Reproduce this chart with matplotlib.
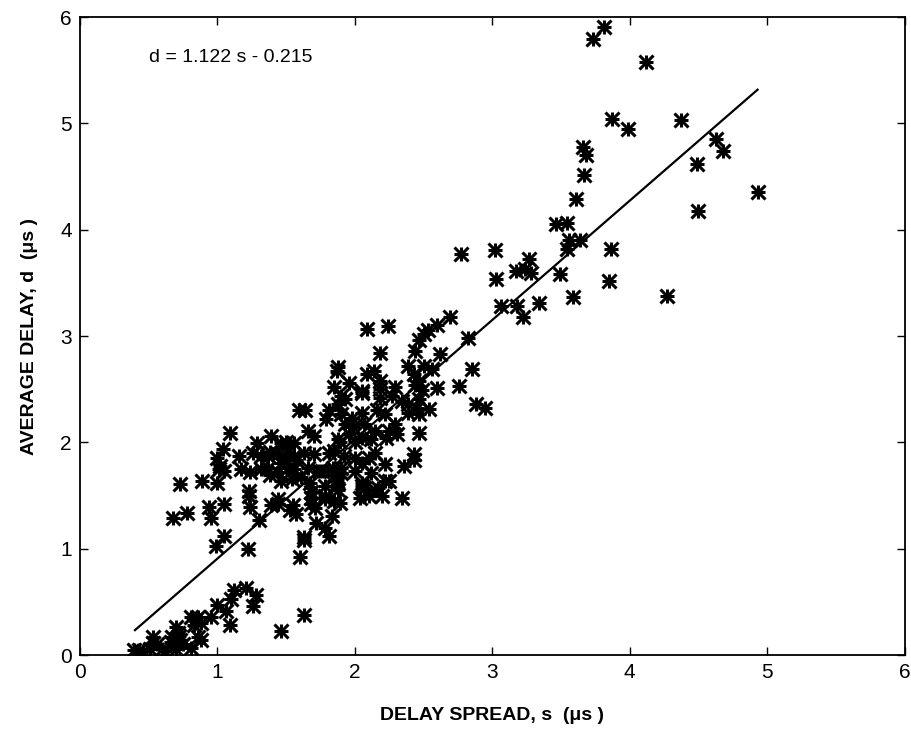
import matplotlib
matplotlib.use("Agg")
import matplotlib.pyplot as plt
import numpy as np

plt.rcParams['font.family'] = ['Liberation Sans', 'DejaVu Sans']

# Measured (delay spread s, average delay d) pairs, in microseconds
pts = [
    # upper right
    (3.73,5.79),(3.81,5.91),(4.12,5.58),(3.87,5.04),(3.99,4.95),(4.37,5.03),
    (3.66,4.78),(3.68,4.70),(3.67,4.51),(3.61,4.29),(4.63,4.85),(4.68,4.74),
    (4.49,4.62),(4.93,4.35),(4.50,4.18),(3.46,4.05),(3.54,4.06),(3.56,3.90),
    (3.64,3.90),(3.54,3.82),(3.86,3.82),(3.85,3.52),(3.59,3.37),(4.27,3.38),
    (3.49,3.58),
    # 2.8 - 3.4
    (2.77,3.77),(3.02,3.81),(3.03,3.54),(3.27,3.72),(3.17,3.61),(3.24,3.63),
    (3.28,3.59),(3.06,3.28),(3.18,3.28),(3.22,3.18),(3.34,3.31),
    # 2.4 - 3.0
    (2.69,3.18),(2.60,3.10),(2.53,3.06),(2.50,3.02),(2.47,2.96),(2.44,2.86),
    (2.82,2.98),(2.62,2.83),(2.85,2.69),(2.88,2.36),(2.95,2.32),(2.39,2.72),
    (2.50,2.72),(2.56,2.69),(2.43,2.64),(2.47,2.58),
    # 2.0 - 2.4 upper
    (2.09,3.07),(2.24,3.09),(2.18,2.84),(1.88,2.71),(1.87,2.67),(2.09,2.64),
    (2.14,2.67),(2.18,2.58),
    # row ~2.5
    (1.85,2.52),(1.96,2.56),(2.18,2.50),(2.29,2.52),(2.44,2.54),(2.60,2.51),
    (2.76,2.53),(2.05,2.48),(2.49,2.49),
    # row ~2.4
    (1.90,2.44),(1.93,2.41),(2.05,2.46),(2.18,2.42),(2.27,2.44),(2.34,2.39),
    (2.39,2.36),(2.47,2.41),(1.88,2.36),
    # row ~2.3
    (1.59,2.30),(1.64,2.30),(1.81,2.30),(1.79,2.22),(1.90,2.27),(1.98,2.23),
    (2.05,2.28),(2.16,2.30),(2.22,2.27),(2.39,2.28),(2.47,2.27),(2.54,2.31),
    (2.45,2.32),
    # row ~2.1
    (1.09,2.09),(1.39,2.06),(1.66,2.11),(1.70,2.06),(1.93,2.17),(1.99,2.14),
    (2.07,2.17),(2.15,2.11),(2.29,2.17),(2.25,2.11),(1.96,2.08),(2.31,2.08),
    (2.47,2.09),
    # row ~2.0
    (1.04,1.94),(1.29,1.99),(1.50,2.00),(1.56,1.99),(1.88,2.03),(1.89,2.00),
    (2.05,2.04),(2.12,2.03),(2.23,2.04),(1.46,1.99),(1.51,1.95),(2.00,2.00),
    # row ~1.87
    (1.16,1.87),(1.00,1.85),(1.26,1.90),(1.37,1.87),(1.44,1.89),(1.70,1.89),
    (1.81,1.90),(1.32,1.87),(1.38,1.91),(1.49,1.85),(1.56,1.87),(1.63,1.90),
    (1.85,1.92),(1.92,1.87),(2.00,1.85),(2.10,1.85),(2.15,1.90),(2.43,1.89),
    (1.46,1.81),(1.51,1.76),(1.57,1.83),(2.05,1.81),(2.22,1.80),(2.36,1.78),
    (2.43,1.83),
    # row ~1.73
    (1.02,1.78),(1.05,1.73),(1.01,1.75),(1.17,1.75),(1.24,1.72),(1.32,1.75),
    (1.74,1.73),(1.84,1.76),(1.37,1.76),(1.44,1.72),(1.56,1.75),(1.66,1.76),
    (1.76,1.73),(1.85,1.69),(1.90,1.76),(2.00,1.73),(2.12,1.71),(1.38,1.69),
    (1.90,1.71),
    # row ~1.6
    (0.73,1.61),(0.89,1.64),(1.00,1.62),(1.46,1.64),(1.54,1.66),(1.61,1.67),
    (1.67,1.62),(1.78,1.59),(1.87,1.64),(1.23,1.54),(1.23,1.50),(1.68,1.53),
    (1.78,1.50),(1.88,1.55),(2.05,1.62),(2.07,1.57),(2.17,1.57),(2.25,1.64),
    (1.88,1.62),(2.15,1.55),(2.05,1.59),(2.22,1.64),
    # row ~1.45
    (1.44,1.47),(1.55,1.41),(1.68,1.48),(1.68,1.42),(1.78,1.47),(1.85,1.45),
    (1.89,1.43),(1.05,1.42),(0.94,1.39),(1.24,1.39),(1.44,1.42),(1.71,1.38),
    (2.34,1.48),(2.04,1.48),(2.10,1.50),(2.20,1.50),(1.39,1.41),(1.53,1.36),
    # row ~1.3
    (0.68,1.29),(0.78,1.34),(0.95,1.29),(1.57,1.33),(1.30,1.27),(1.83,1.31),
    (1.72,1.24),
    # lower middle
    (1.78,1.19),(1.81,1.12),(1.63,1.11),(1.05,1.12),(0.99,1.03),(1.22,1.00),
    (1.63,1.08),(1.60,0.92),
    # bottom cluster
    (1.63,0.38),(1.46,0.23),(1.12,0.61),(1.21,0.63),(1.28,0.56),(1.10,0.53),
    (1.26,0.46),(1.00,0.47),(1.06,0.41),(0.95,0.36),(1.09,0.28),(0.81,0.36),
    (0.84,0.33),(0.86,0.36),(0.70,0.26),(0.71,0.21),(0.73,0.14),(0.67,0.17),
    (0.86,0.17),(0.88,0.14),(0.53,0.17),(0.53,0.11),(0.39,0.05),(0.43,0.05),
    (0.51,0.06),(0.60,0.06),(0.70,0.06),(0.81,0.07),(0.75,0.10),(0.62,0.04),
    (0.46,0.04),(0.56,0.10),(0.66,0.12),(0.83,0.28),(0.88,0.30),(0.72,0.18),
]
spread = np.array([p[0] for p in pts])
avg_delay = np.array([p[1] for p in pts])

slope, intercept = 1.122, -0.215
fit_range = [0.40, 4.93]

fig = plt.figure(figsize=(9.11, 7.30), dpi=100)
ax = fig.add_axes([0.0878, 0.1027, 0.9052, 0.874])

for m in ['+', 'x']:
    ax.plot(spread, avg_delay, linestyle='none', marker=m, color='black',
            markersize=10, markeredgewidth=2.2)

xs = np.array(fit_range)
ax.plot(xs, slope * xs + intercept, color='black', linewidth=1.6)

ax.text(0.50, 5.62, 'd = 1.122 s - 0.215', fontsize=14, ha='left', va='center')

ax.set_xlim(0, 6)
ax.set_ylim(0, 6)
ax.set_xticks(range(7))
ax.set_yticks(range(7))
ax.tick_params(direction='in', top=True, right=True, labelsize=15, length=6,
               width=1, pad=6)
for s in ax.spines.values():
    s.set_linewidth(1.3)

ax.set_xlabel('DELAY SPREAD, s  (μs )', fontsize=14, fontweight='bold', labelpad=18)
ax.set_ylabel('AVERAGE DELAY, d  (μs )', fontsize=14, fontweight='bold', labelpad=16)

fig.savefig('out.png', dpi=100)
